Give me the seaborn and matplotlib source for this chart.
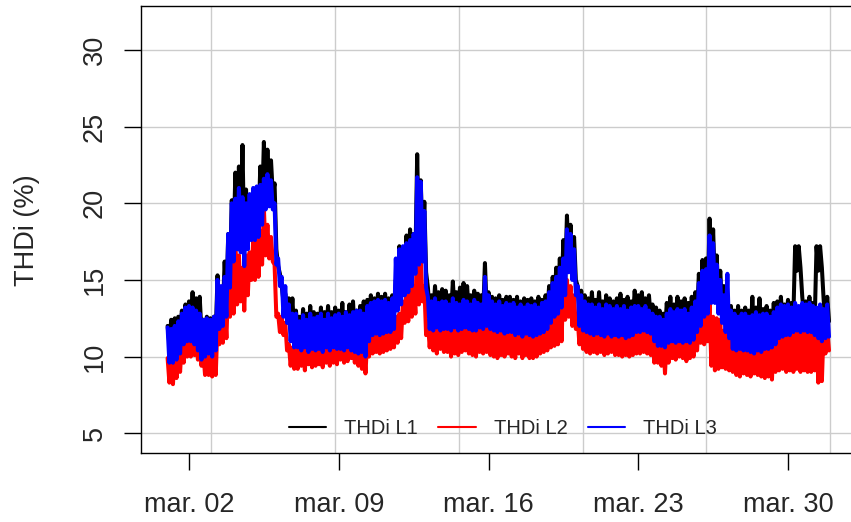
import numpy as np
import pandas as pd
import matplotlib
matplotlib.use("Agg")
import matplotlib.pyplot as plt
import matplotlib.dates as mdates
from matplotlib.lines import Line2D
import seaborn as sns

# THDi (%): upper and lower edge of each noisy band,
# one value per 4-hour slot from 1 March (6 slots per day, one row per day)
l1_high = [
    12.0, 12.4, 12.5, 12.6, 13.0, 13.4,
    13.6, 14.2, 13.8, 13.9, 12.4, 12.6,
    12.5, 12.6, 15.3, 14.2, 16.2, 18.0,
    20.2, 22.0, 22.4, 23.8, 20.9, 19.8,
    20.7, 20.8, 22.4, 24.0, 23.5, 22.8,
    21.3, 15.9, 14.6, 14.1, 13.8, 13.8,
    13.0, 12.6, 13.1, 12.8, 13.3, 12.9,
    12.8, 13.2, 12.9, 13.3, 12.9, 13.2,
    13.0, 13.5, 12.9, 13.4, 13.6, 13.0,
    13.3, 13.6, 13.7, 14.0, 13.8, 14.1,
    13.9, 14.1, 13.8, 14.0, 15.0, 17.2,
    17.1, 17.9, 18.3, 18.0, 23.2, 21.5,
    20.1, 14.5, 14.0, 14.6, 14.2, 14.4,
    14.3, 14.0, 14.9, 14.2, 14.5, 14.8,
    14.6, 14.0, 14.3, 14.1, 14.0, 16.1,
    14.2, 13.9, 13.8, 14.0, 13.7, 13.9,
    13.9, 13.7, 13.9, 13.6, 13.8, 13.7,
    13.8, 13.6, 13.9, 13.7, 14.0, 14.6,
    15.2, 15.8, 16.4, 17.6, 19.2, 18.6,
    17.8, 14.6, 14.3, 14.0, 13.8, 14.2,
    13.7, 14.2, 13.6, 14.0, 13.8, 13.6,
    13.8, 14.1, 13.7, 13.9, 13.6, 14.3,
    14.0, 14.2, 13.8, 14.0, 13.4, 13.2,
    13.0, 12.8, 13.5, 13.9, 13.4, 13.9,
    13.6, 13.8, 13.5, 13.9, 14.2, 15.4,
    16.3, 16.4, 19.0, 18.3, 16.6, 15.6,
    14.6, 13.8, 13.3, 13.0, 13.3, 13.0,
    13.2, 13.0, 13.9, 13.2, 13.8, 13.1,
    13.3, 13.0, 13.5, 13.6, 13.9, 13.4,
    13.7, 13.5, 17.2, 17.2, 13.9, 13.6,
    13.9, 13.5, 17.2, 17.2, 13.7, 13.9,
]
l1_low = [
    10.8, 10.8, 11.0, 11.4, 11.8, 12.2,
    12.2, 12.0, 11.8, 11.6, 11.0, 11.2,
    11.2, 11.4, 13.0, 13.0, 13.6, 15.5,
    17.2, 18.0, 18.0, 17.0, 18.0, 18.6,
    18.6, 18.8, 19.6, 20.6, 20.8, 20.6,
    17.0, 15.4, 13.6, 13.2, 12.0, 11.6,
    11.6, 11.4, 11.6, 11.3, 11.5, 11.4,
    11.5, 11.3, 11.6, 11.4, 11.6, 11.5,
    11.5, 11.4, 11.6, 11.4, 11.3, 11.2,
    11.3, 11.0, 12.0, 12.4, 12.5, 12.4,
    12.5, 12.6, 12.6, 12.8, 14.0, 14.4,
    15.0, 15.2, 15.6, 16.4, 17.0, 17.2,
    15.5, 12.8, 12.7, 12.9, 12.7, 12.8,
    12.8, 12.7, 12.9, 12.7, 12.8, 12.9,
    12.8, 12.7, 12.7, 12.9, 12.8, 13.0,
    12.8, 12.7, 12.6, 12.7, 12.5, 12.6,
    12.6, 12.4, 12.5, 12.3, 12.5, 12.4,
    12.3, 12.4, 12.5, 12.6, 12.8, 13.2,
    13.6, 13.8, 14.2, 15.0, 16.5, 16.0,
    15.0, 13.0, 12.7, 12.6, 12.5, 12.4,
    12.5, 12.4, 12.3, 12.5, 12.3, 12.4,
    12.3, 12.4, 12.2, 12.3, 12.4, 12.6,
    12.6, 12.7, 12.6, 12.5, 12.0, 11.7,
    11.7, 11.6, 11.9, 12.0, 11.9, 12.0,
    11.9, 12.0, 11.9, 12.1, 12.6, 13.0,
    13.6, 13.8, 14.5, 14.5, 13.8, 13.2,
    12.6, 12.2, 11.5, 11.4, 11.5, 11.4,
    11.4, 11.3, 11.2, 11.4, 11.3, 11.5,
    11.5, 11.6, 11.8, 12.2, 12.3, 12.4,
    12.4, 12.6, 15.6, 15.8, 12.7, 12.6,
    12.6, 12.4, 15.6, 15.8, 12.2, 12.3,
]
l2_high = [
    9.9, 9.8, 10.2, 10.6, 11.0, 11.3,
    11.4, 11.5, 11.3, 11.0, 10.4, 10.4,
    10.3, 10.4, 12.2, 12.6, 13.3, 15.0,
    16.0, 17.2, 16.6, 15.8, 16.6, 16.8,
    17.6, 18.0, 18.2, 19.7, 18.6, 17.8,
    16.0, 12.8, 12.6, 12.2, 10.8, 10.6,
    10.6, 10.8, 10.5, 10.9, 10.6, 10.7,
    10.8, 10.6, 10.9, 10.7, 11.0, 10.8,
    11.2, 11.3, 11.0, 11.4, 11.2, 10.9,
    10.6, 10.8, 11.2, 11.6, 11.7, 11.6,
    11.6, 11.7, 11.8, 11.9, 12.6, 12.8,
    13.6, 14.2, 14.7, 14.6, 18.0, 16.4,
    14.6, 12.3, 12.2, 12.0, 12.2, 12.1,
    12.3, 12.2, 12.4, 12.1, 12.3, 12.2,
    12.2, 12.3, 12.1, 12.4, 12.2, 12.4,
    12.1, 12.0, 12.2, 12.1, 12.0, 12.2,
    12.0, 12.2, 11.9, 12.1, 12.2, 11.9,
    11.8, 12.0, 12.1, 12.2, 12.3, 12.4,
    12.8, 13.5, 13.6, 15.2, 15.0, 14.6,
    14.0, 12.5, 12.3, 12.2, 12.1, 12.0,
    11.9, 12.0, 11.8, 12.0, 11.9, 11.7,
    11.8, 11.9, 11.7, 11.8, 11.9, 12.0,
    11.9, 11.8, 11.9, 11.7, 11.5, 11.4,
    11.4, 11.2, 11.3, 11.2, 11.3, 11.2,
    11.3, 11.2, 11.3, 11.2, 11.6, 12.6,
    13.0, 13.7, 13.4, 12.6, 12.5, 12.4,
    11.7, 11.6, 11.5, 11.4, 11.5, 11.3,
    11.1, 11.0, 11.2, 11.0, 11.1, 10.9,
    11.0, 10.8, 11.4, 11.7, 11.6, 11.8,
    11.7, 11.8, 11.6, 11.9, 11.8, 11.7,
    11.8, 11.9, 11.6, 11.7, 11.9, 11.8,
]
l2_low = [
    8.3, 8.2, 8.6, 9.0, 9.6, 10.0,
    10.0, 10.1, 9.8, 9.4, 8.8, 8.8,
    8.7, 8.8, 10.8, 10.9, 11.2, 12.6,
    12.8, 13.4, 13.6, 13.0, 14.0, 15.0,
    15.0, 15.2, 16.0, 16.6, 16.4, 16.2,
    12.6, 11.6, 11.4, 10.4, 9.4, 9.2,
    9.2, 9.4, 9.1, 9.5, 9.3, 9.4,
    9.5, 9.3, 9.6, 9.4, 9.6, 9.5,
    9.8, 9.6, 9.7, 9.9, 9.6, 9.4,
    9.2, 8.9, 10.0, 10.2, 10.3, 10.2,
    10.3, 10.4, 10.5, 10.6, 10.9, 11.2,
    12.2, 12.3, 12.6, 12.8, 13.4, 13.6,
    11.4, 10.6, 10.4, 10.2, 10.5, 10.3,
    10.3, 10.0, 10.2, 10.1, 10.3, 10.4,
    10.2, 10.1, 10.0, 10.3, 10.2, 10.3,
    10.1, 10.0, 9.9, 10.1, 10.0, 10.2,
    10.0, 9.9, 10.2, 9.9, 10.1, 9.9,
    9.9, 10.0, 10.2, 10.3, 10.4, 10.6,
    10.7, 10.8, 11.0, 12.4, 12.6, 12.0,
    11.8, 10.8, 10.5, 10.3, 10.2, 10.3,
    10.2, 10.3, 10.1, 10.2, 10.3, 10.1,
    10.1, 10.0, 10.1, 10.0, 10.1, 10.2,
    10.2, 10.3, 10.2, 10.1, 9.6, 9.6,
    9.4, 8.9, 9.6, 9.9, 9.8, 10.0,
    9.9, 9.7, 9.9, 10.0, 10.4, 10.9,
    10.8, 11.0, 9.4, 9.1, 9.2, 9.3,
    9.2, 9.1, 9.0, 8.8, 8.7, 8.9,
    8.8, 8.7, 8.9, 8.8, 8.7, 8.6,
    8.7, 8.5, 9.0, 9.1, 9.2, 9.0,
    9.1, 9.0, 9.2, 9.0, 9.1, 9.0,
    9.0, 9.1, 8.3, 8.4, 10.2, 10.4,
]
l3_high = [
    11.9, 11.8, 12.0, 12.3, 12.8, 13.2,
    13.3, 13.2, 13.0, 12.8, 12.4, 12.5,
    12.4, 12.6, 15.0, 14.6, 15.2, 18.0,
    20.0, 20.3, 21.0, 20.4, 20.0, 20.6,
    21.0, 21.1, 21.2, 21.6, 21.9, 21.5,
    20.0, 16.4, 15.2, 14.6, 13.4, 12.8,
    12.8, 12.3, 12.7, 12.4, 12.8, 12.5,
    12.6, 12.8, 12.4, 12.8, 12.5, 12.7,
    12.8, 12.6, 12.9, 12.7, 12.9, 13.0,
    13.0, 12.8, 13.3, 13.5, 13.6, 13.7,
    13.6, 13.7, 13.5, 13.8, 16.4, 17.0,
    17.2, 17.4, 17.6, 18.0, 21.7, 21.4,
    19.5, 13.9, 13.6, 13.8, 13.5, 13.6,
    13.6, 13.4, 13.8, 13.5, 13.4, 13.7,
    13.6, 13.4, 13.7, 13.5, 13.4, 15.2,
    14.0, 13.6, 13.4, 13.6, 13.3, 13.5,
    13.4, 13.5, 13.2, 13.4, 13.2, 13.4,
    13.3, 13.4, 13.2, 13.5, 13.6, 14.2,
    14.8, 15.2, 15.8, 16.4, 18.3, 18.0,
    17.0, 14.6, 14.0, 13.6, 13.4, 13.4,
    13.2, 13.4, 13.1, 13.4, 13.3, 13.1,
    13.3, 13.1, 13.3, 13.0, 13.2, 13.3,
    13.3, 13.1, 13.3, 13.0, 12.8, 12.6,
    12.6, 12.4, 12.8, 13.1, 12.9, 13.1,
    13.0, 13.1, 12.8, 13.2, 13.6, 14.8,
    15.6, 15.7, 17.9, 17.4, 16.0, 15.0,
    14.0, 15.4, 13.0, 12.8, 12.6, 12.8,
    12.8, 12.6, 12.7, 12.9, 12.7, 12.8,
    12.8, 12.6, 12.9, 13.2, 13.4, 13.3,
    13.4, 13.2, 13.5, 13.3, 13.5, 13.4,
    13.5, 13.3, 13.2, 13.4, 13.1, 13.4,
]
l3_low = [
    9.6, 9.6, 9.8, 10.2, 10.8, 11.0,
    11.0, 10.8, 10.4, 9.8, 10.0, 10.2,
    10.0, 10.4, 11.8, 12.0, 12.6, 14.5,
    16.2, 17.0, 16.8, 15.9, 17.0, 17.6,
    17.6, 17.8, 18.6, 19.6, 19.8, 19.6,
    16.0, 14.6, 12.6, 12.2, 11.0, 10.6,
    10.6, 10.4, 10.6, 10.3, 10.5, 10.4,
    10.5, 10.3, 10.6, 10.4, 10.6, 10.5,
    10.5, 10.4, 10.6, 10.4, 10.3, 10.2,
    10.3, 10.0, 11.0, 11.4, 11.5, 11.4,
    11.5, 11.6, 11.6, 11.8, 13.0, 13.4,
    14.0, 14.2, 14.6, 15.4, 16.0, 16.2,
    14.5, 11.8, 11.7, 11.9, 11.7, 11.8,
    11.8, 11.7, 11.9, 11.7, 11.8, 11.9,
    11.8, 11.7, 11.7, 11.9, 11.8, 12.0,
    11.8, 11.7, 11.6, 11.7, 11.5, 11.6,
    11.6, 11.4, 11.5, 11.3, 11.5, 11.4,
    11.3, 11.4, 11.5, 11.6, 11.8, 12.2,
    12.6, 12.8, 13.2, 14.0, 15.5, 15.0,
    14.0, 12.0, 11.7, 11.6, 11.5, 11.4,
    11.5, 11.4, 11.3, 11.5, 11.3, 11.4,
    11.3, 11.4, 11.2, 11.3, 11.4, 11.6,
    11.6, 11.7, 11.6, 11.5, 11.0, 10.7,
    10.7, 10.6, 10.9, 11.0, 10.9, 11.0,
    10.9, 11.0, 10.9, 11.1, 11.6, 12.0,
    12.6, 12.8, 13.5, 13.5, 12.8, 12.2,
    11.6, 11.2, 10.5, 10.4, 10.5, 10.4,
    10.4, 10.3, 10.2, 10.4, 10.3, 10.5,
    10.5, 10.6, 10.8, 11.2, 11.3, 11.4,
    11.4, 11.6, 11.7, 11.6, 11.7, 11.6,
    11.6, 11.4, 11.2, 11.0, 11.2, 11.3,
]

series_names = ["THDi L1", "THDi L2", "THDi L3"]
series_colors = ["black", "red", "blue"]
tick_days = ["2020-03-02", "2020-03-09", "2020-03-16", "2020-03-23", "2020-03-30"]
tick_labels = ["mar. 02", "mar. 09", "mar. 16", "mar. 23", "mar. 30"]
y_ticks = [5, 10, 15, 20, 25, 30]

# high edge at the start of each slot, low edge 2 hours later
slots = pd.date_range("2020-03-01", periods=len(l1_high), freq="4h")
slots_low = slots + pd.Timedelta(hours=2)
frames = []
for name, hi, lo in zip(series_names, [l1_high, l2_high, l3_high], [l1_low, l2_low, l3_low]):
    frames.append(pd.DataFrame({"time": slots, "value": hi, "series": name}))
    frames.append(pd.DataFrame({"time": slots_low, "value": lo, "series": name}))
df = pd.concat(frames, ignore_index=True)

sns.set_style("white")
plt.rcParams["font.family"] = ["Liberation Sans", "DejaVu Sans"]

fig = plt.figure(figsize=(8.51, 5.22), dpi=100)
ax = fig.add_axes([141 / 851, 1 - 453 / 522, 715 / 851, 447 / 522])

# grid (R style: vertical lines every 500000 s)
ref = pd.Timestamp("2020-03-02")
gstart = pd.Timestamp("2020-03-03 01:00")
for k in range(-1, 7):
    ax.axvline(mdates.date2num(gstart + pd.Timedelta(seconds=500000 * k)),
               color="#cccccc", lw=1.0, zorder=0)
for yv in y_ticks:
    ax.axhline(yv, color="#cccccc", lw=1.0, zorder=0)

sns.lineplot(data=df, x="time", y="value", hue="series", hue_order=series_names,
             palette=series_colors, estimator=None, legend=False,
             linewidth=2.9, solid_joinstyle="round", solid_capstyle="round", ax=ax)

x0 = mdates.date2num(ref)
ax.set_xlim(x0 - 48 / 21.393, x0 + 667 / 21.393)
ax.set_ylim(3.71, 32.87)

ax.set_xticks([mdates.date2num(pd.Timestamp(d)) for d in tick_days])
ax.set_xticklabels(tick_labels)
ax.set_yticks(y_ticks)
ax.set_yticklabels([str(v) for v in y_ticks], rotation=90, va="center")
ax.tick_params(axis="both", direction="out", length=12.2, width=1.0,
               color="black", labelsize=19.5, left=True, bottom=True)
ax.tick_params(axis="x", pad=16)
ax.tick_params(axis="y", pad=11.7)
ax.set_xlabel("")
ax.set_ylabel("")
for s in ax.spines.values():
    s.set_color("black")
    s.set_linewidth(1.0)

fig.text(27 / 851, 1 - 230 / 522, "THDi (%)", rotation=90, ha="center",
         va="center", fontsize=19.5)

handles = [Line2D([], [], color=c, lw=1.5) for c in series_colors]
ax.legend(handles, series_names, loc="center", ncol=3, frameon=False,
          bbox_to_anchor=(503 / 851, 1 - 429 / 522), bbox_transform=fig.transFigure,
          fontsize=14.5, handlelength=1.85, handletextpad=0.9, columnspacing=1.0)

fig.savefig("out.png", dpi=100)
